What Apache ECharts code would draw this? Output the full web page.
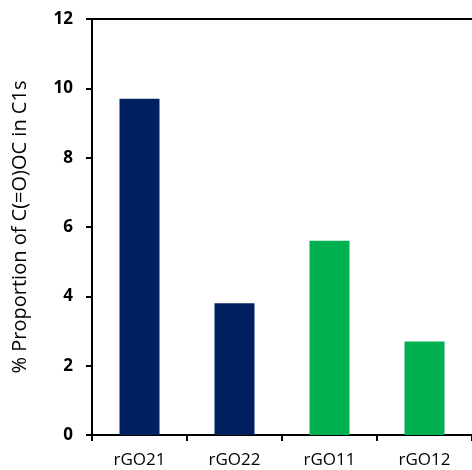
<!DOCTYPE html>
<html>
<head>
<meta charset="utf-8">
<script src="https://cdn.jsdelivr.net/npm/echarts@6/dist/echarts.min.js"></script>
<style>html,body{margin:0;padding:0;background:#fff}#c{width:472px;height:470px}</style>
</head>
<body>
<div id="c"></div>
<script>
const categories = ['rGO21', 'rGO22', 'rGO11', 'rGO12'];
const values = [9.7, 3.8, 5.6, 2.7];
const barColors = ['#002060', '#002060', '#00B050', '#00B050'];
const yTitle = '% Proportion of C(=O)OC in C1s';
const yMin = 0, yMax = 12, yStep = 2;

const chart = echarts.init(document.getElementById('c'));
chart.setOption({
  animation: false,
  grid: { left: 92, top: 19, width: 392, height: 416, containLabel: false },
  xAxis: [{
    type: 'category',
    data: categories,
    boundaryGap: true,
    axisLine: { lineStyle: { color: '#000', width: 2 } },
    axisTick: { show: true, length: 6, lineStyle: { color: '#000', width: 2 } },
    axisLabel: { color: '#000', fontFamily: 'Open Sans', fontSize: 17, margin: 17 }
  }, {
    type: 'category',
    data: categories,
    position: 'top',
    axisLine: { show: true, lineStyle: { color: '#000', width: 2 } },
    axisTick: { show: false },
    axisLabel: { show: false }
  }],
  yAxis: {
    type: 'value',
    min: yMin, max: yMax, interval: yStep,
    name: yTitle,
    nameLocation: 'middle',
    nameGap: 62,
    nameTextStyle: { color: '#000', fontFamily: 'Open Sans', fontSize: 20 },
    axisLine: { show: true, lineStyle: { color: '#000', width: 2 } },
    axisTick: { show: true, length: 6, lineStyle: { color: '#000', width: 2 } },
    axisLabel: { color: '#000', fontFamily: 'Open Sans', fontWeight: 'bold', fontSize: 17, margin: 19 },
    splitLine: { show: false }
  },
  series: [{
    type: 'bar',
    xAxisIndex: 0,
    barWidth: 40,
    data: values.map((v, i) => ({ value: v, itemStyle: { color: barColors[i] } }))
  }]
});
</script>
</body>
</html>
